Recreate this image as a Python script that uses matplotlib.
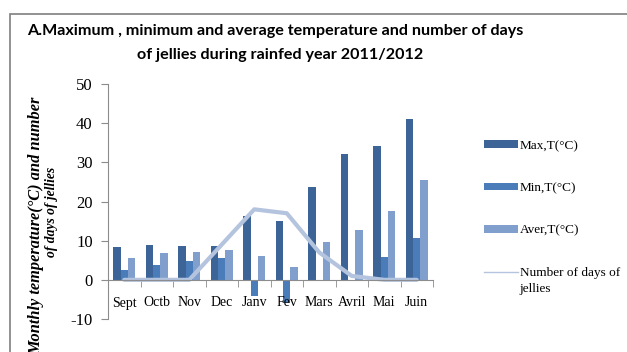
import numpy as np
import matplotlib.pyplot as plt
from matplotlib.patches import Rectangle
from matplotlib.lines import Line2D

plt.rcParams['axes.unicode_minus'] = False

# Monthly temperatures (°C) and jelly days, rainfed year 2011/2012
months = ['Sept', 'Octb', 'Nov', 'Dec', 'Janv', 'Fev', 'Mars', 'Avril', 'Mai', 'Juin']
t_max = [8.3, 9.0, 8.7, 8.7, 16.2, 14.9, 23.8, 32.1, 34.1, 41.0]
t_min = [2.6, 3.9, 4.9, 5.6, -4.0, -6.0, -0.3, -0.3, 5.9, 10.8]
t_avg = [5.7, 6.9, 7.2, 7.7, 6.2, 3.4, 9.7, 12.6, 17.7, 25.4]
jelly_days = [0, 0, 0, 9, 18, 17, 7, 1, 0, 0]

c_max = '#3d6497'
c_min = '#4a7cba'
c_avg = '#819fcc'
c_line = '#b4c4de'

W, H = 627, 352
fig = plt.figure(figsize=(W / 100, H / 100), dpi=100)
fig.patch.set_facecolor('white')

# outer chart frame
fig.patches.append(Rectangle((10 / W, -0.1), 1.2, 1.1 - 14 / H,
                             transform=fig.transFigure, fill=False,
                             edgecolor='#7f7f7f', linewidth=1.2))

ax = fig.add_axes([108 / W, (H - 319) / H, (433 - 108) / W, (319 - 84) / H])

x = np.arange(len(months))
bw = 0.225
b1 = ax.bar(x - bw, t_max, bw, color=c_max)
b2 = ax.bar(x, t_min, bw, color=c_min)
b3 = ax.bar(x + bw, t_avg, bw, color=c_avg)
ax.plot(x, jelly_days, color=c_line, linewidth=3, solid_capstyle='round')

ax.set_xlim(-0.5, len(months) - 0.5)
ax.set_ylim(-10, 50)
ax.set_yticks(range(-10, 51, 10))

for s in ['top', 'right']:
    ax.spines[s].set_visible(False)
ax.spines['bottom'].set_position(('data', 0))
ax.spines['bottom'].set_color('#8c8c8c')
ax.spines['left'].set_color('#8c8c8c')

ax.set_xticks(x)
ax.set_xticklabels(months, fontfamily='Liberation Serif', fontsize=10)
ax.set_xticks(np.arange(-0.5, len(months), 1), minor=True)
ax.tick_params(axis='x', which='major', length=0, pad=12)
ax.tick_params(axis='x', which='minor', length=5, color='#8c8c8c', direction='out')
ax.tick_params(axis='y', length=5, color='#8c8c8c', pad=6)
for lbl in ax.get_yticklabels():
    lbl.set_fontfamily('Liberation Serif')
    lbl.set_fontsize(12)

ax.set_xlabel('Monthe', fontfamily='Liberation Serif', fontsize=12,
              fontweight='bold')
ax.xaxis.set_label_coords(0.5, -0.215)

# y axis title, two rotated lines
ylab = dict(rotation=90, ha='center', va='center', fontfamily='Liberation Serif',
            fontweight='bold', fontstyle='italic')
fig.text(36 / W, 1 - 226 / H, 'Monthly temperature(°C) and number',
         fontsize=11.8, **ylab)
fig.text(52 / W, 1 - 212 / H, 'of days of jellies', fontsize=9.8, **ylab)

fig.text(27 / W, 1 - 31 / H,
         'A.Maximum , minimum and average temperature and number of days',
         ha='left', va='center', fontfamily='Lato', fontweight='bold', fontsize=11.6)
fig.text(137 / W, 1 - 55 / H, 'of jellies during rainfed year 2011/2012',
         ha='left', va='center', fontfamily='Lato', fontweight='bold', fontsize=11.6)

handles = [b1, b2, b3, Line2D([], [], color=c_line, linewidth=1)]
labels = ['Max,T(°C)', 'Min,T(°C)', 'Aver,T(°C)', 'Number of days of']
leg_font = {'family': 'Liberation Serif', 'size': 9.5}
leg = fig.legend(handles, labels, loc='upper left',
                 bbox_to_anchor=(472 / W, 1 - 128 / H), frameon=False,
                 prop=leg_font, handlelength=2.6, handleheight=0.5,
                 labelspacing=2.3, handletextpad=0.1)

# second line of the last legend label, set under the first one
fig.canvas.draw()
last = leg.get_texts()[-1]
bb = last.get_window_extent().transformed(fig.transFigure.inverted())
fig.text(bb.x0, bb.y0 - 4 / H, 'jellies', ha='left', va='top',
         fontfamily='Liberation Serif', fontsize=9.5)

fig.savefig('out.png', dpi=100)
